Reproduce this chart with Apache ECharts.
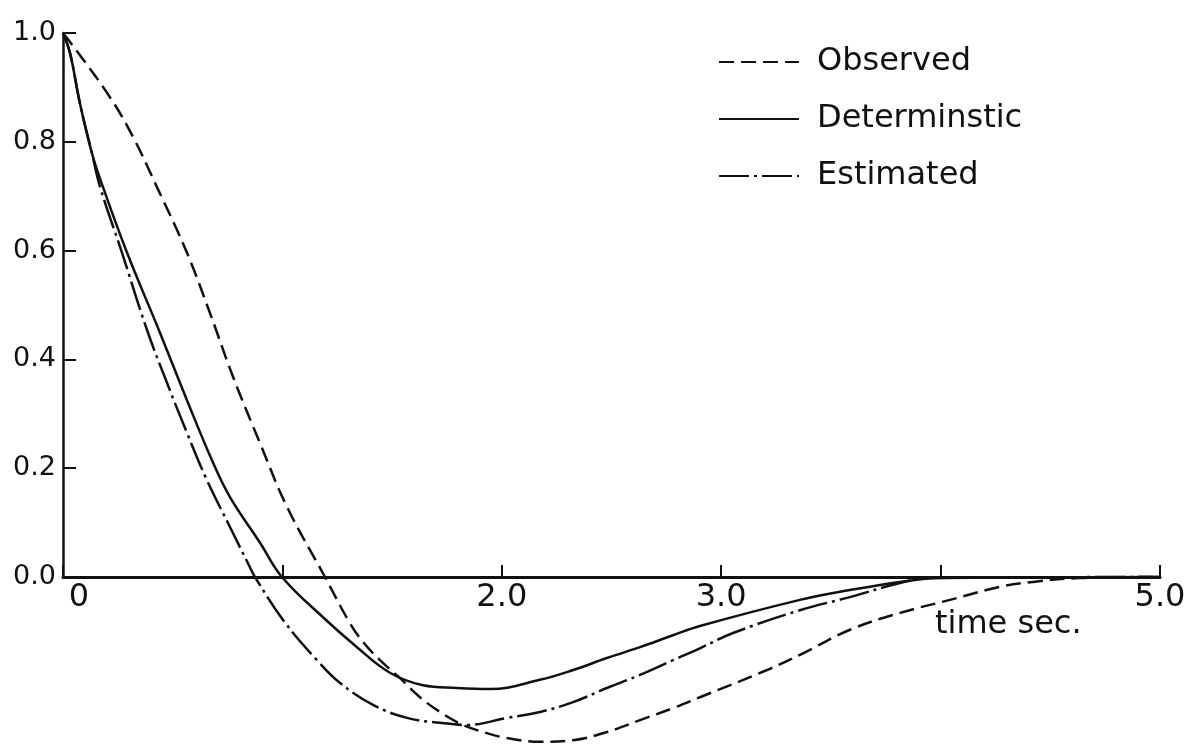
<!DOCTYPE html>
<html>
<head>
<meta charset="utf-8">
<script src="https://cdn.jsdelivr.net/npm/echarts@6/dist/echarts.min.js"></script>
<style>
html,body{margin:0;padding:0;background:#ffffff;}
#chart{width:1188px;height:744px;}
</style>
</head>
<body>
<div id="chart"></div>
<script>
// ---- data: [time (sec), response] ----
const seriesNames = ['Observed', 'Determinstic', 'Estimated'];

const observed = [
  [0, 1.0], [0.046, 0.976], [0.214, 0.882], [0.319, 0.809], [0.428, 0.717],
  [0.565, 0.596], [0.670, 0.485], [0.775, 0.368], [0.898, 0.246], [1.021, 0.129],
  [1.194, 0.0], [1.308, -0.085], [1.367, -0.119],
  [1.445, -0.153], [1.536, -0.186], [1.627, -0.221], [1.718, -0.248], [1.823, -0.272],
  [1.932, -0.287], [2.024, -0.296], [2.174, -0.303], [2.325, -0.300], [2.479, -0.285],
  [2.630, -0.263], [2.780, -0.241], [2.903, -0.221], [3.209, -0.171], [3.359, -0.143],
  [3.587, -0.097], [3.815, -0.066], [4.043, -0.042], [4.271, -0.018], [4.421, -0.009],
  [4.635, -0.002], [5.0, 0]
];

const deterministic = [
  [0, 1.0], [0.032, 0.963], [0.077, 0.871], [0.132, 0.779], [0.182, 0.717],
  [0.292, 0.596], [0.442, 0.449], [0.565, 0.325], [0.684, 0.210], [0.761, 0.147],
  [0.898, 0.063], [0.998, 0.0], [1.185, -0.074], [1.340, -0.129],
  [1.490, -0.176], [1.641, -0.199], [1.796, -0.204], [1.946, -0.206], [2.174, -0.189],
  [2.325, -0.171], [2.479, -0.149], [2.630, -0.129], [2.780, -0.107], [2.903, -0.090],
  [3.359, -0.042], [3.587, -0.024], [3.815, -0.009], [3.997, -0.002], [5.0, 0]
];

const estimated = [
  [0, 1.0], [0.032, 0.963], [0.077, 0.871], [0.132, 0.779], [0.169, 0.717],
  [0.269, 0.596], [0.383, 0.454], [0.474, 0.357], [0.565, 0.265], [0.656, 0.178],
  [0.761, 0.092], [0.852, 0.018], [0.875, 0.0], [1.003, -0.079], [1.158, -0.153],
  [1.263, -0.195], [1.413, -0.235], [1.568, -0.259], [1.718, -0.268], [1.841, -0.272],
  [2.024, -0.259], [2.174, -0.248], [2.325, -0.230], [2.479, -0.204], [2.630, -0.180],
  [2.780, -0.153], [2.903, -0.131], [3.054, -0.103], [3.359, -0.061], [3.587, -0.037],
  [3.815, -0.011], [3.952, -0.002], [5.0, 0]
];

const xTickLabels = {0: '0', 1: '', 2: '2.0', 3: '3.0', 4: '', 5: '5.0'};
const yTickLabels = {0: '0.0', 0.2: '0.2', 0.4: '0.4', 0.6: '0.6', 0.8: '0.8', 1: '1.0'};
const xAxisTitle = 'time sec.';

// ---- chart ----
const FONT = 'DejaVu Sans';
const INK = '#111111';
const chart = echarts.init(document.getElementById('chart'), null, {renderer: 'canvas'});

function lineSeries(name, data, type, width) {
  return {
    name: name,
    type: 'line',
    xAxisIndex: 0,
    yAxisIndex: 0,
    data: data,
    showSymbol: false,
    symbol: 'none',
    smooth: 0.4,
    clip: false,
    lineStyle: {color: INK, width: width, type: type},
    itemStyle: {color: INK},
    emphasis: {disabled: true},
    z: 3
  };
}

const option = {
  backgroundColor: '#ffffff',
  animation: false,
  textStyle: {fontFamily: FONT, color: INK},
  grid: [
    // data grid: y from -0.4 to 1.0 (extends below the canvas)
    {left: 63, top: 33, width: 1097, height: 761.6, outerBoundsMode: 'none', containLabel: false},
    // axis grid: y from 0 to 1.0, its bottom edge is the y = 0 line
    {left: 63, top: 33, width: 1097, height: 544, outerBoundsMode: 'none', containLabel: false}
  ],
  xAxis: [
    {
      type: 'value', gridIndex: 0, min: 0, max: 5, interval: 1,
      axisLine: {show: false}, axisTick: {show: false},
      axisLabel: {show: false}, splitLine: {show: false}
    },
    {
      type: 'value', gridIndex: 1, min: 0, max: 5, interval: 1, position: 'bottom',
      axisLine: {show: true, onZero: false, lineStyle: {color: INK, width: 3}},
      axisTick: {show: true, inside: true, length: 12, lineStyle: {color: INK, width: 2}},
      axisLabel: {
        show: true, margin: 5, fontSize: 32, fontFamily: FONT, color: INK,
        showMinLabel: true, showMaxLabel: true,
        formatter: function (v) {
          const k = Math.round(v);
          const s = xTickLabels[k];
          if (s === undefined || s === '') return '';
          return k === 0 ? '{z|' + s + '}' : s;
        },
        rich: {z: {fontSize: 32, fontFamily: FONT, color: INK, padding: [0, 0, 0, 32]}}
      },
      splitLine: {show: false}
    }
  ],
  yAxis: [
    {
      type: 'value', gridIndex: 0, min: -0.4, max: 1.0, interval: 0.2,
      axisLine: {show: false}, axisTick: {show: false},
      axisLabel: {show: false}, splitLine: {show: false}
    },
    {
      type: 'value', gridIndex: 1, min: 0, max: 1.0, interval: 0.2, position: 'left',
      axisLine: {show: true, onZero: false, lineStyle: {color: INK, width: 2.5}},
      axisTick: {show: true, inside: true, length: 13, lineStyle: {color: INK, width: 2}},
      axisLabel: {
        show: true, margin: 7, fontSize: 27, fontFamily: FONT, color: INK,
        formatter: function (v) {
          const k = Math.round(v * 10) / 10;
          return yTickLabels[k] !== undefined ? yTickLabels[k] : '';
        }
      },
      splitLine: {show: false}
    }
  ],
  legend: {
    data: seriesNames,
    orient: 'vertical',
    left: 713,
    top: 37,
    itemWidth: 80,
    itemHeight: 14,
    itemGap: 17,
    selectedMode: false,
    itemStyle: {color: 'rgba(0,0,0,0)', borderWidth: 0, opacity: 0},
    textStyle: {fontSize: 32, fontFamily: FONT, color: INK, lineHeight: 40, padding: [0, 0, 0, 13]}
  },
  graphic: [
    {
      type: 'text', left: 935, top: 609,
      style: {text: xAxisTitle, fontSize: 32, fontFamily: FONT, fill: INK}
    }
  ],
  series: [
    lineSeries(seriesNames[0], observed, [15, 7], 2.5),
    lineSeries(seriesNames[1], deterministic, 'solid', 2.5),
    lineSeries(seriesNames[2], estimated, [30, 5, 3, 5], 2.5)
  ]
};

chart.setOption(option);
</script>
</body>
</html>
